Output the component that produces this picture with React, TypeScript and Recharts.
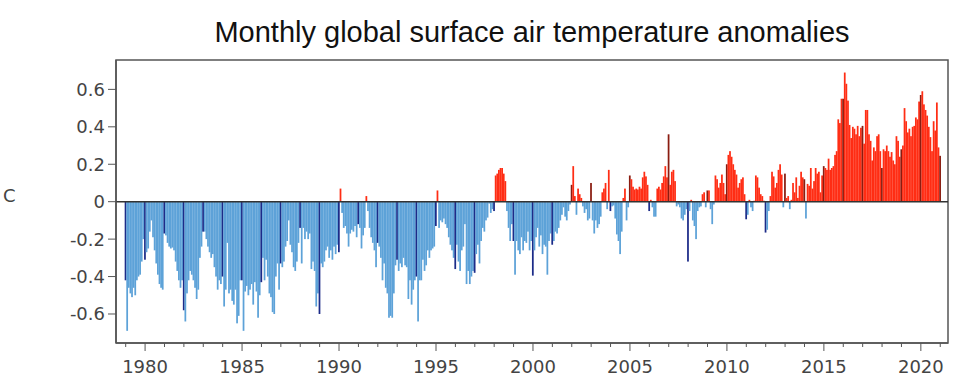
import { BarChart, Bar, XAxis, YAxis, ReferenceLine, ReferenceArea } from 'recharts';

// monthly anomalies (C), Jan 1979 .. Jan 2021, one row per year
const anom1979to1988: number[] = [
  -0.42, -0.69, -0.46, -0.49, -0.51, -0.46, -0.5, -0.42, -0.4, -0.39, -0.32, -0.2,
  -0.31, -0.27, -0.25, -0.16, -0.1, -0.19, -0.26, -0.33, -0.39, -0.44, -0.46, -0.47,
  -0.17, -0.18, -0.22, -0.24, -0.25, -0.245, -0.26, -0.32, -0.37, -0.42, -0.46, -0.42,
  -0.58, -0.64, -0.49, -0.42, -0.37, -0.39, -0.42, -0.46, -0.52, -0.47, -0.3, -0.24,
  -0.16, -0.16, -0.2, -0.24, -0.27, -0.3, -0.28, -0.35, -0.4, -0.47, -0.42, -0.44,
  -0.4, -0.56, -0.47, -0.22, -0.49, -0.47, -0.53, -0.55, -0.47, -0.65, -0.61, -0.42,
  -0.42, -0.69, -0.48, -0.45, -0.5, -0.47, -0.44, -0.55, -0.43, -0.48, -0.62, -0.5,
  -0.43, -0.3, -0.42, -0.31, -0.4, -0.49, -0.51, -0.59, -0.6, -0.4, -0.33, -0.47,
  -0.33, -0.35, -0.32, -0.24, -0.21, -0.1, -0.23, -0.27, -0.35, -0.37, -0.32, -0.22,
  -0.14, -0.33, -0.14, -0.2, -0.16, -0.2, -0.17, -0.36, -0.32, -0.37, -0.56, -0.49,
];

const anom1989to1998: number[] = [
  -0.6, -0.33, -0.35, -0.32, -0.26, -0.24, -0.3, -0.26, -0.31, -0.24, -0.28, -0.23,
  -0.27, 0.07, -0.06, -0.14, -0.13, -0.17, -0.24, -0.17, -0.15, -0.16, -0.13, -0.19,
  -0.12, -0.14, -0.25, -0.18, -0.14, 0.03, -0.05, -0.14, -0.19, -0.22, -0.26, -0.35,
  -0.22, -0.24, -0.3, -0.42, -0.33, -0.46, -0.49, -0.62, -0.61, -0.62, -0.49, -0.34,
  -0.31, -0.37, -0.33, -0.35, -0.3, -0.34, -0.35, -0.52, -0.42, -0.55, -0.47, -0.42,
  -0.4, -0.64, -0.42, -0.42, -0.31, -0.37, -0.34, -0.26, -0.3, -0.26, -0.25, -0.24,
  -0.13, 0.06, -0.14, -0.1, -0.11, -0.09, -0.12, -0.14, -0.19, -0.23, -0.26, -0.3,
  -0.36, -0.23, -0.32, -0.37, -0.26, -0.24, -0.12, -0.44, -0.37, -0.44, -0.4, -0.37,
  -0.38, -0.28, -0.23, -0.33, -0.21, -0.14, -0.16, -0.1, -0.085, -0.01, -0.06, -0.04,
  -0.05, 0.14, 0.15, 0.17, 0.18, 0.18, 0.15, 0.11, -0.05, -0.14, -0.21, -0.12,
];

const anom1999to2008: number[] = [
  -0.21, -0.39, -0.21, -0.26, -0.28, -0.19, -0.26, -0.21, -0.22, -0.16, -0.26, -0.21,
  -0.395, -0.26, -0.19, -0.14, -0.24, -0.18, -0.28, -0.23, -0.24, -0.39, -0.21, -0.17,
  -0.23, -0.21, -0.16, -0.17, -0.14, -0.1, -0.07, -0.03, -0.08, -0.1, -0.05, -0.015,
  0.09, 0.19, 0.03, -0.07, 0.07, 0.04, 0.02, -0.025, -0.06, -0.04, -0.1, -0.09,
  0.1, -0.1, -0.17, -0.1, -0.14, -0.12, -0.08, 0.05, 0.07, 0.1, -0.04, 0.17,
  -0.05, -0.025, -0.02, -0.09, -0.175, -0.21, -0.28, -0.16, 0.02, 0.07, -0.1, -0.03,
  0.14, 0.12, 0.08, 0.065, 0.07, 0.065, 0.08, 0.07, 0.13, 0.16, 0.135, 0.09,
  -0.05, 0.01, -0.03, -0.08, -0.08, 0.07, 0.08, 0.065, 0.1, 0.135, 0.19, 0.13,
  0.36, 0.09, 0.16, 0.17, 0.11, -0.025, -0.015, -0.03, -0.09, -0.1, -0.07, -0.04,
  -0.32, -0.05, 0.01, -0.1, -0.13, -0.2, -0.05, -0.03, -0.025, 0.04, 0.05, -0.03,
];

const anom2009to2021: number[] = [
  0.06, 0.06, -0.04, -0.12, -0.015, 0.14, 0.12, 0.075, 0.1, 0.145, 0.1, 0.04,
  0.2, 0.25, 0.27, 0.24, 0.2, 0.17, 0.145, 0.075, 0.1, 0.12, 0.13, 0.04,
  -0.094, -0.07, 0.01, -0.03, -0.05, 0.005, 0.14, 0.13, 0.075, 0.04, 0.03, 0.005,
  -0.165, -0.15, -0.05, 0.03, 0.16, 0.135, 0.075, 0.1, 0.17, 0.2, 0.145, -0.03,
  0.15, 0.02, 0.03, -0.04, 0.01, 0.1, 0.05, 0.13, 0.02, 0.085, 0.16, 0.13,
  0.12, -0.09, 0.095, 0.085, 0.18, 0.07, 0.11, 0.18, 0.15, 0.16, 0.05, 0.14,
  0.19, 0.18, 0.17, 0.23, 0.17, 0.18, 0.19, 0.25, 0.27, 0.44, 0.42, 0.55,
  0.55, 0.69, 0.63, 0.54, 0.41, 0.34, 0.4, 0.39, 0.36, 0.405, 0.35, 0.395,
  0.405, 0.31, 0.49, 0.49, 0.36, 0.325, 0.22, 0.29, 0.27, 0.35, 0.36, 0.27,
  0.18, 0.28, 0.27, 0.3, 0.27, 0.24, 0.265, 0.22, 0.2, 0.35, 0.325, 0.24,
  0.28, 0.3, 0.5, 0.43, 0.37, 0.39, 0.35, 0.4, 0.405, 0.45, 0.44, 0.535,
  0.57, 0.59, 0.52, 0.49, 0.46, 0.4, 0.345, 0.27, 0.43, 0.38, 0.53, 0.29,
  0.245,
];

const firstYear = 1979;
const yearTicks: number[] = [];
for (let y = 1979; y <= 2021; y++) yearTicks.push(y);
const yTicks = [-0.6, -0.4, -0.2, 0, 0.2, 0.4, 0.6];

const monthly = [...anom1979to1988, ...anom1989to1998, ...anom1999to2008, ...anom2009to2021];
const data = monthly.map((v, i) => ({ t: firstYear + i / 12, v, jan: i % 12 === 0 }));

const LIGHT_BLUE = '#5da2d8';
const DARK_BLUE = '#1c2b88';
const RED = '#ff2d14';
const DARK_RED = '#8a1c10';

const X_MIN = 1978.5;
const X_MAX = 2021.4;
const BAR_W = 1.75;

function barColor(d: { v: number; jan: boolean }) {
  if (d.v >= 0) return d.jan ? DARK_RED : RED;
  return d.jan ? DARK_BLUE : LIGHT_BLUE;
}

// recharts shrinks bars to 90% of the month spacing, so draw them a bit wider
function MonthBar(props: any) {
  const { x, y, width, height, payload } = props;
  if (x == null || y == null || !height) return null;
  const top = height < 0 ? y + height : y;
  const cx = x + width / 2;
  return <rect x={cx - BAR_W / 2} y={top} width={BAR_W} height={Math.abs(height)} fill={barColor(payload)} />;
}

function YearTick(props: any) {
  const { x, y, payload } = props;
  const major = payload.value % 5 === 0;
  return (
    <g>
      <line x1={x} x2={x} y1={y} y2={y + (major ? 8 : 4)} stroke="#555" strokeWidth={1} />
      {major && (
        <text x={x} y={y + 30} textAnchor="middle" fill="#444" fontSize={18} fontFamily="DejaVu Sans">
          {payload.value}
        </text>
      )}
    </g>
  );
}

export default function App() {
  return (
    <div style={{ position: 'absolute', left: 0, top: 0, width: 970, height: 391, background: 'white' }}>
      <div
        style={{
          position: 'absolute',
          left: 116,
          width: 832,
          top: 16,
          textAlign: 'center',
          fontFamily: '"Liberation Sans", Arial, sans-serif',
          fontSize: 29,
          lineHeight: '32px',
          color: '#111',
        }}
      >
        Monthly global surface air temperature anomalies
      </div>
      <BarChart
        width={970}
        height={391}
        data={data}
        margin={{ top: 60, right: 22, bottom: 0, left: 0 }}
        barGap={0}
      >
        <XAxis
          dataKey="t"
          type="number"
          domain={[X_MIN, X_MAX]}
          ticks={yearTicks}
          interval={0}
          height={48}
          tickLine={false}
          tickSize={0}
          tickMargin={0}
          axisLine={{ stroke: '#555', strokeWidth: 1.5 }}
          tick={<YearTick />}
          allowDataOverflow
        />
        <YAxis
          width={116}
          domain={[-0.755, 0.757]}
          ticks={yTicks}
          interval={0}
          tickSize={8}
          tickMargin={3}
          tickFormatter={(v: number) => (v === 0 ? '0' : v.toFixed(1))}
          tick={{ fill: '#444', fontSize: 18, fontFamily: 'DejaVu Sans' }}
          tickLine={{ stroke: '#555' }}
          axisLine={{ stroke: '#555', strokeWidth: 1.5 }}
          allowDataOverflow
          label={{ value: 'C', position: 'insideLeft', offset: 3, dy: -6, fill: '#444', fontSize: 18, fontFamily: 'DejaVu Sans' }}
        />
        <Bar dataKey="v" isAnimationActive={false} shape={<MonthBar />} />
        <ReferenceLine y={0} stroke="#333" strokeWidth={1.5} />
        <ReferenceArea x1={X_MIN} x2={X_MAX} y1={-0.755} y2={0.757} fill="none" stroke="#555" strokeWidth={1.5} />
      </BarChart>
    </div>
  );
}
